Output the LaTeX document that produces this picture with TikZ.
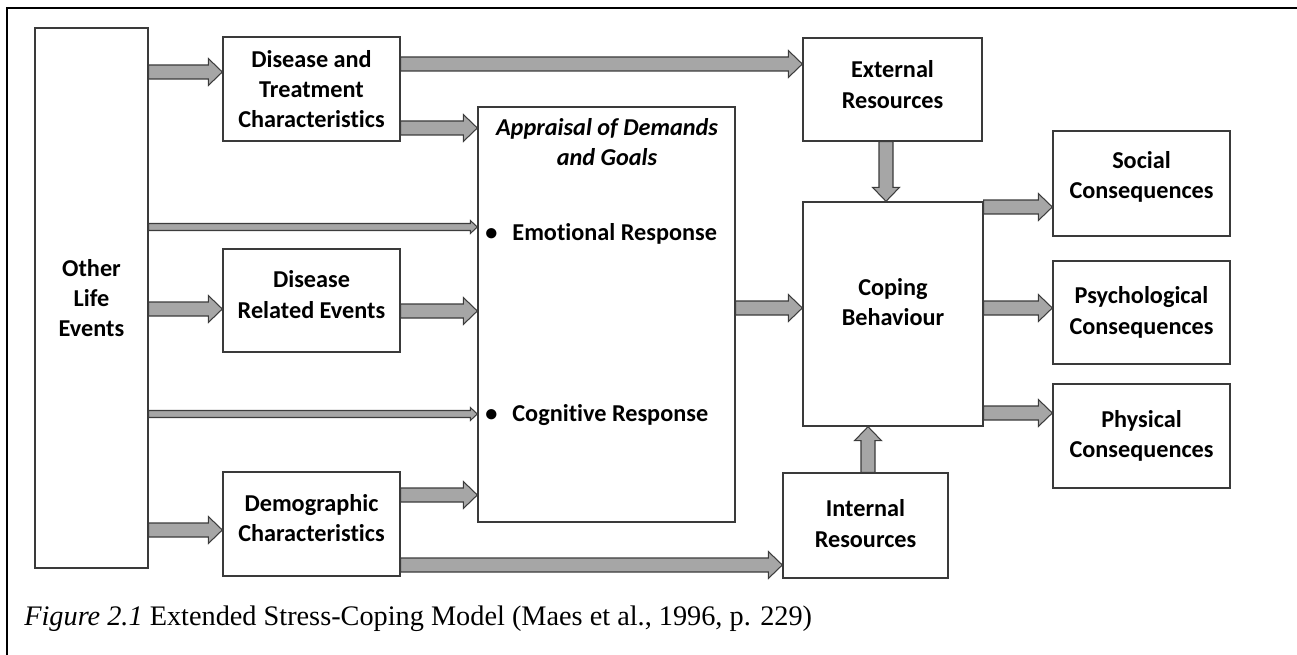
\documentclass[tikz,border=0pt]{standalone}
\usepackage{fontspec}
\setmainfont{Carlito}[Ligatures = NoCommon]
\newfontfamily\captionfont{Liberation Serif}
\usetikzlibrary{calc}

\definecolor{arrowgray}{HTML}{A6A6A6}
\definecolor{arrowedge}{HTML}{3C3C3C}
\definecolor{boxedge}{HTML}{3A3A3A}

% Invisible depth at the end of a box text: lifts the text inside its box.
\newcommand{\liftby}[1]{\rule[-#1]{0pt}{#1}}

\begin{document}
\begin{tikzpicture}[%
        x = 0.02cm,
        y = -0.02cm,
        box/.style = {
            draw = boxedge,
            line width = 0.8pt,
            align = center,
            inner sep = 0pt,
            font = \fontsize{13.8}{17.3}\selectfont\bfseries
        },
        boxtext/.style = {
            inner sep = 0pt,
            font = \fontsize{13.8}{17.3}\selectfont\bfseries
        },
        bigarrow/.code = {\def\shafthalf{0.14cm}\def\headhalf{0.27cm}\def\headlen{0.28cm}},
        thinarrow/.code = {\def\shafthalf{0.07cm}\def\headhalf{0.13cm}\def\headlen{0.14cm}},
        blockarrow/.style = {
            draw = arrowedge,
            fill = arrowgray,
            line width = 0.6pt,
            line join = miter,
            to path = {
                ($(\tikztostart)!\shafthalf!90:(\tikztotarget)$)
                -- ($(\tikztotarget)!\headlen!(\tikztostart)!\shafthalf!-90:(\tikztostart)$)
                -- ($(\tikztotarget)!\headlen!(\tikztostart)!\headhalf!-90:(\tikztostart)$)
                -- (\tikztotarget)
                -- ($(\tikztotarget)!\headlen!(\tikztostart)!\headhalf!90:(\tikztostart)$)
                -- ($(\tikztotarget)!\headlen!(\tikztostart)!\shafthalf!90:(\tikztostart)$)
                -- ($(\tikztostart)!\shafthalf!-90:(\tikztotarget)$)
                -- cycle
            }
        }
    ]

        \useasboundingbox (0,0) rectangle (1297,655);

        % Frame round the figure.
        \draw[line width = 1.5pt] (7,655) -- (7,8) -- (1297,8);

        % Left column.
        \node[box, minimum width = 2.26cm, minimum height = 10.8cm] (life) at (91.5,298) {Other\\Life\\Events};

        % Stressor boxes.
        \node[box, minimum width = 3.54cm, minimum height = 2.08cm] (treat) at (311.5,89) {Disease and\\Treatment\\Characteristics};
        \node[box, minimum width = 3.54cm, minimum height = 2.06cm] (related) at (311.5,300.5) {Disease\\Related Events\liftby{0.24cm}};
        \node[box, minimum width = 3.54cm, minimum height = 2.08cm] (demog) at (311.5,524) {Demographic\\Characteristics\liftby{0.24cm}};

        % Appraisal box and its contents.
        \node[box, minimum width = 5.14cm, minimum height = 8.3cm] (appraisal) at (606.5,314.5) {};
        \node[boxtext, align = center, font = \fontsize{13.8}{17.3}\selectfont\bfseries\itshape] (apptitle) at (607,142) {Appraisal of Demands\\and Goals};
        \node[boxtext, anchor = base west] (emotional) at (485,240.5) {\textbullet\hspace{0.3cm}Emotional Response};
        \node[boxtext, anchor = base west] (cognitive) at (485,421.5) {\textbullet\hspace{0.3cm}Cognitive Response};

        % Resources and coping.
        \node[box, minimum width = 3.58cm, minimum height = 2.06cm] (external) at (892.5,89.5) {External\\Resources\liftby{0.2cm}};
        \node[box, minimum width = 3.6cm, minimum height = 4.48cm] (coping) at (893,314) {Coping\\Behaviour\liftby{0.48cm}};
        \node[box, minimum width = 3.3cm, minimum height = 2.1cm] (internal) at (865.5,525.5) {Internal\\Resources\liftby{0.08cm}};

        % Consequences.
        \node[box, minimum width = 3.54cm, minimum height = 2.1cm] (social) at (1141.5,183.5) {Social\\Consequences\liftby{0.33cm}};
        \node[box, minimum width = 3.54cm, minimum height = 2.06cm] (psych) at (1141.5,312.5) {Psychological\\Consequences};
        \node[box, minimum width = 3.54cm, minimum height = 2.08cm] (physical) at (1141.5,436) {Physical\\Consequences};

        % Caption.
        \node[anchor = base west, inner sep = 0pt, font = \captionfont\fontsize{16.1}{19}\selectfont] (caption) at (24,625)
            {\textit{Figure 2.1} Extended Stress-Coping Model (Maes et al., 1996, p. 229)};

        % Arrows out of the left column.
        \path[blockarrow, bigarrow] (life.east |- 0,72) to (treat.west |- 0,72);
        \path[blockarrow, thinarrow] (life.east |- 0,227) to (appraisal.west |- 0,227);
        \path[blockarrow, bigarrow] (life.east |- 0,309) to (related.west |- 0,309);
        \path[blockarrow, thinarrow] (life.east |- 0,414) to (appraisal.west |- 0,414);
        \path[blockarrow, bigarrow] (life.east |- 0,530) to (demog.west |- 0,530);

        % Arrows out of the stressor boxes.
        \path[blockarrow, bigarrow] (treat.east |- 0,64) to (external.west |- 0,64);
        \path[blockarrow, bigarrow] (treat.east |- 0,128) to (appraisal.west |- 0,128);
        \path[blockarrow, bigarrow] (related.east |- 0,311) to (appraisal.west |- 0,311);
        \path[blockarrow, bigarrow] (demog.east |- 0,495) to (appraisal.west |- 0,495);
        \path[blockarrow, bigarrow] (demog.east |- 0,565) to (internal.west |- 0,565);

        % Arrows into and out of coping.
        \path[blockarrow, bigarrow] (appraisal.east |- 0,308) to (coping.west |- 0,308);
        \path[blockarrow, bigarrow] (886,0 |- external.south) to (886,0 |- coping.north);
        \path[blockarrow, bigarrow] (868,0 |- internal.north) to (868,0 |- coping.south);
        \path[blockarrow, bigarrow] (coping.east |- 0,207) to (social.west |- 0,207);
        \path[blockarrow, bigarrow] (coping.east |- 0,308) to (psych.west |- 0,308);
        \path[blockarrow, bigarrow] (coping.east |- 0,413) to (physical.west |- 0,413);
    \end{tikzpicture}
\end{document}
